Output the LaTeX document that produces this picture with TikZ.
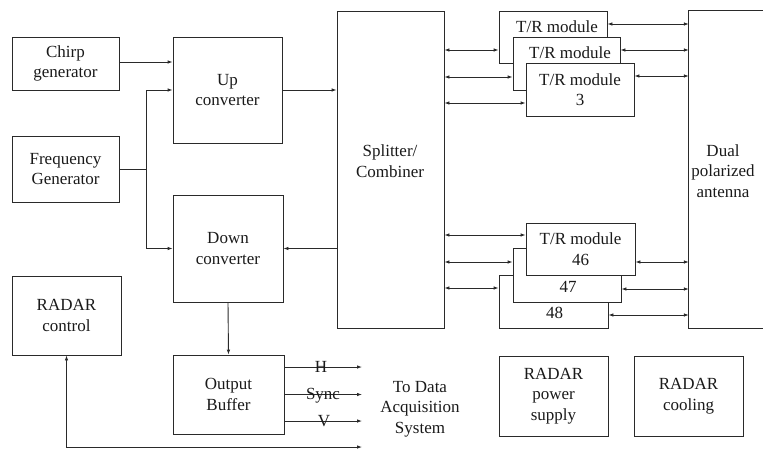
\documentclass[tikz,border=0pt]{standalone}
\usepackage{fontspec}
\setmainfont{Liberation Serif}
\usetikzlibrary{arrows.meta}
\definecolor{linec}{HTML}{2A2A2A}
\definecolor{textc}{HTML}{1A1A1A}
\begin{document}
\begin{tikzpicture}[x=1pt,y=-1pt,
  every node/.style={font=\fontsize{17}{20.5}\selectfont, text=textc},
  box/.style={draw=linec, line width=0.9pt, fill=white, inner sep=0pt, align=center},
  lbl/.style={inner sep=0pt, align=center},
  wire/.style={inner sep=0pt},
  arr/.style={draw=linec, line width=0.9pt, -{Latex[length=5pt,width=3.6pt]}},
  dbl/.style={draw=linec, line width=0.9pt, {Latex[length=5pt,width=3.6pt]}-{Latex[length=5pt,width=3.6pt]}},
  ln/.style={draw=linec, line width=0.9pt}]
\useasboundingbox (0,0) rectangle (763,450);

% left column
\node[box, minimum width=107pt, minimum height=53pt] (chirp) at (65.5,63.5) {Chirp\\generator};
\node[box, minimum width=107pt, minimum height=66pt] (freq) at (65.5,169) {Frequency\\Generator};
\node[box, minimum width=109pt, minimum height=79pt] (ctrl) at (66.5,315.5) {RADAR\\control};

% converters
\node[box, minimum width=109pt, minimum height=106pt] (up) at (227.5,90) {Up\\converter};
\node[box, minimum width=110pt, minimum height=107pt] (down) at (228,248.5) {Down\\converter};
\node[box, minimum width=111pt, minimum height=79pt] (buf) at (228.5,394.5) {Output\\Buffer};

% splitter
\node[box, minimum width=107pt, minimum height=317pt] (split) at (390.5,169.5) {};
\node[lbl] (splitt) at (390,161) {Splitter/\\Combiner};

% T/R modules top
\node[box, minimum width=108pt, minimum height=52pt] (tr1) at (553,37) {};
\node[wire] (tr1t) at (557,27) {T/R module};
\node[box, minimum width=107pt, minimum height=53pt] (tr2) at (566.5,63.5) {};
\node[wire] (tr2t) at (570,53) {T/R module};
\node[box, minimum width=108pt, minimum height=53pt] (tr3) at (580,89.5) {T/R module\\3};

% T/R modules bottom
\node[box, minimum width=109pt, minimum height=53pt] (tr48) at (553.5,301.5) {};
\node[wire] (tr48t) at (554.5,313) {48};
\node[box, minimum width=108pt, minimum height=54pt] (tr47) at (567,275) {};
\node[wire] (tr47t) at (568,287) {47};
\node[box, minimum width=109pt, minimum height=52pt] (tr46) at (580.5,249) {T/R module\\46};

% antenna (open to the right)
\node[inner sep=0pt, minimum width=80pt, minimum height=317pt] (ant) at (729,169.5) {};
\draw[ln] (ant.north east) -- (ant.north west) -- (ant.south west) -- (ant.south east);
\node[lbl] (antt) at (723,171) {Dual\\polarized\\antenna};

% bottom right boxes
\node[box, minimum width=109pt, minimum height=80pt] (power) at (553.5,396) {RADAR\\power\\supply};
\node[box, minimum width=109pt, minimum height=80pt] (cool) at (688.5,396) {RADAR\\cooling};

% DAQ text
\node[lbl] (daqt) at (420,409) {To Data\\Acquisition\\System};

% connectors left
\draw[arr] (chirp.east |- 0,62) -- (up.west |- 0,62);
\coordinate (j) at (146,169);
\draw[ln] (freq.east) -- (j);
\draw[arr] (j) |- (up.west);
\draw[arr] (j) |- (down.west);
\draw[arr] (up.east) -- (up.east -| split.west);
\draw[arr] (split.west |- down.east) -- (down.east);
\draw[arr] (down.south) -- (buf.north);

% output buffer lines
\coordinate (oH) at (362,367);
\coordinate (oS) at (362,394.5);
\coordinate (oV) at (362,421);
\draw[arr] (buf.east |- oH) -- (oH);
\draw[arr] (buf.east |- oS) -- (oS);
\draw[arr] (buf.east |- oV) -- (oV);
\node[wire] (lH) at (321,367) {H};
\node[wire] (lS) at (323,395.5) {Sync};
\node[wire] (lV) at (324,421) {V};

% control loop
\coordinate (daq) at (362,447);
\draw[dbl] (ctrl.south) |- (daq);

% splitter to modules
\draw[dbl] (split.east |- 0,50) -- (tr1.west |- 0,50);
\draw[dbl] (split.east |- 0,77) -- (tr2.west |- 0,77);
\draw[dbl] (split.east |- 0,103) -- (tr3.west |- 0,103);
\draw[dbl] (split.east |- 0,235) -- (tr46.west |- 0,235);
\draw[dbl] (split.east |- 0,262) -- (tr47.west |- 0,262);
\draw[dbl] (split.east |- 0,288) -- (tr48.west |- 0,288);

% modules to antenna
\draw[dbl] (tr1.east |- 0,24) -- (ant.west |- 0,24);
\draw[dbl] (tr2.east |- 0,50) -- (ant.west |- 0,50);
\draw[dbl] (tr3.east |- 0,76) -- (ant.west |- 0,76);
\draw[dbl] (tr46.east |- 0,262) -- (ant.west |- 0,262);
\draw[dbl] (tr47.east |- 0,289) -- (ant.west |- 0,289);
\draw[dbl] (tr48.east |- 0,315) -- (ant.west |- 0,315);
\end{tikzpicture}
\end{document}
